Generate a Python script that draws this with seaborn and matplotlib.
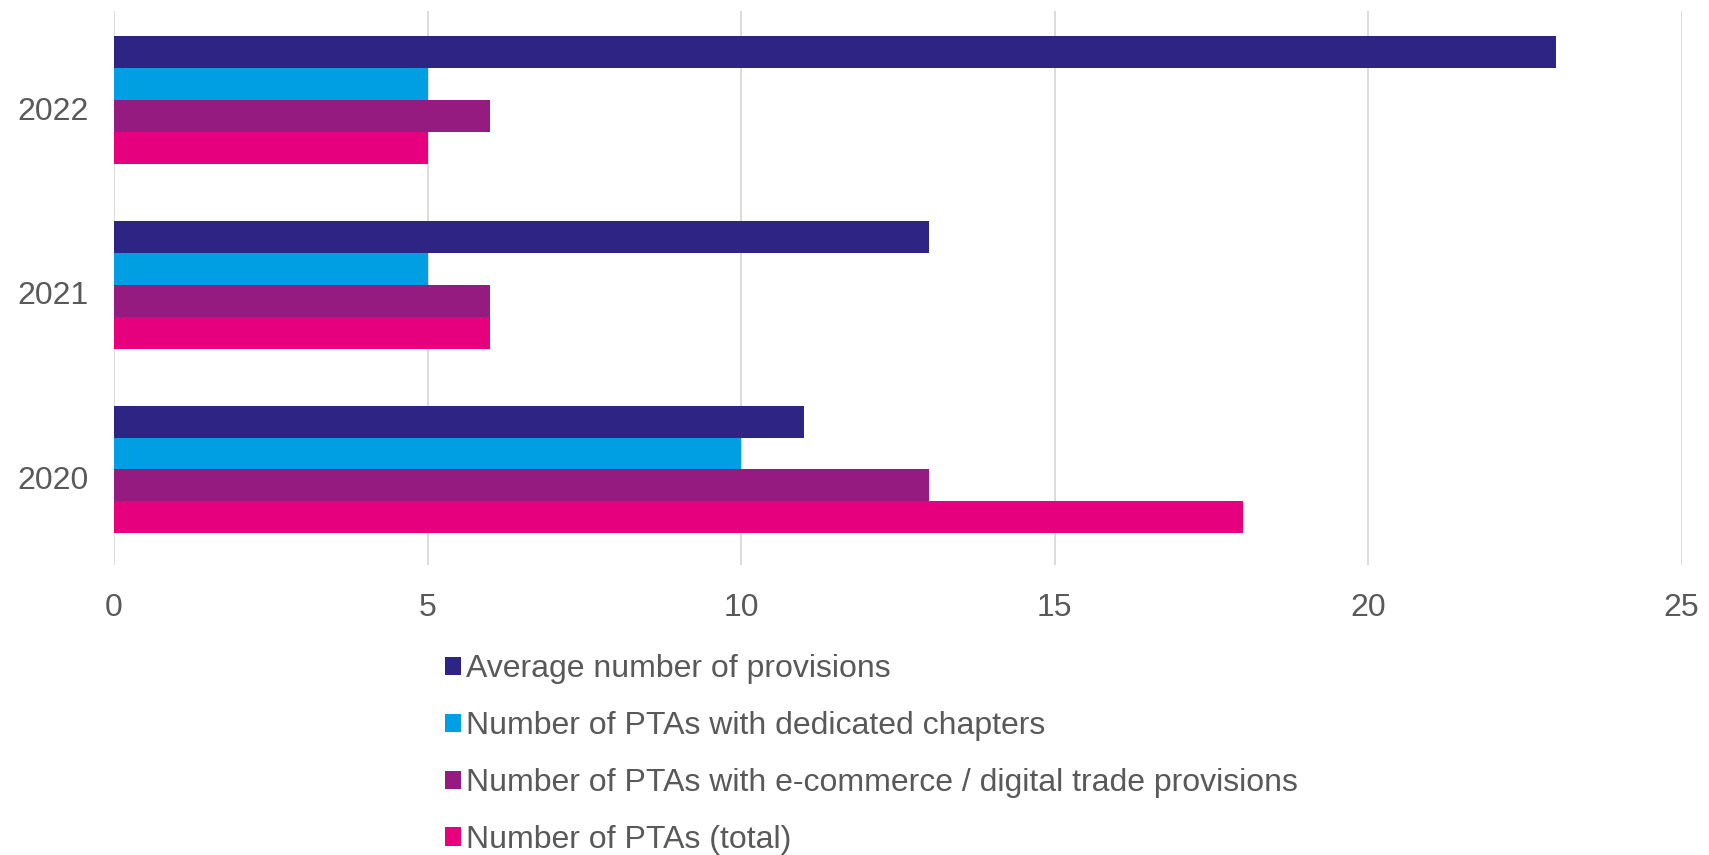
import pandas as pd
import matplotlib
matplotlib.use("Agg")
import matplotlib.pyplot as plt
import matplotlib.transforms as mtransforms
import seaborn as sns


years = ["2022", "2021", "2020"]

series = [
    "Average number of provisions",
    "Number of PTAs with dedicated chapters",
    "Number of PTAs with e-commerce / digital trade provisions",
    "Number of PTAs (total)",
]

average_provisions = [23, 13, 11]
dedicated_chapters = [5, 5, 10]
ecommerce_provisions = [6, 6, 13]
total_ptas = [5, 6, 18]

colors = ["#2E2483", "#009FE3", "#951B81", "#E6007E"]

x_ticks = [0, 5, 10, 15, 20, 25]


rows = []
for values, name in zip(
    [average_provisions, dedicated_chapters, ecommerce_provisions, total_ptas],
    series
):
    for year, value in zip(years, values):
        rows.append({"Year": year, "Series": name, "Value": value})

df = pd.DataFrame(rows)


sns.set_style("white")
plt.rcParams["font.family"] = ["Liberation Sans", "DejaVu Sans"]

fig = plt.figure(figsize=(17.09, 8.55), dpi=100)
ax = fig.add_axes([0.0667, 0.339, 0.9173, 0.648])

sns.barplot(
    data=df,
    y="Year",
    x="Value",
    hue="Series",
    order=years,
    hue_order=series,
    palette=colors,
    orient="h",
    width=0.69,
    saturation=1,
    linewidth=0,
    ax=ax
)

ax.set_xlim(0, 25)
ax.set_ylim(2.518, -0.482)
ax.set_xticks(x_ticks)
ax.set_xticklabels([str(t) for t in x_ticks])

ax.grid(axis="x", color="#D9D9D9", linewidth=1.3)
ax.set_axisbelow(True)

for spine in ax.spines.values():
    spine.set_visible(False)

ax.tick_params(axis="x", length=0, pad=20, labelsize=23, labelcolor="#595959")
ax.tick_params(axis="y", length=0, pad=18, labelsize=23, labelcolor="#595959")

# year labels sit a little below the bar group centres
offset = mtransforms.ScaledTranslation(0, -8 / 100, fig.dpi_scale_trans)
for label in ax.get_yticklabels():
    label.set_transform(label.get_transform() + offset)

ax.set_xlabel("")
ax.set_ylabel("")

handles, labels = ax.get_legend_handles_labels()
ax.get_legend().remove()

fig.legend(
    handles,
    labels,
    loc="upper left",
    bbox_to_anchor=(0.2605, 0.2346),
    frameon=False,
    fontsize=23,
    labelcolor="#595959",
    handlelength=0.5,
    handleheight=0.5,
    handletextpad=0.15,
    labelspacing=0.84,
    borderpad=0,
    borderaxespad=0
)

fig.savefig("out.png", dpi=100)
